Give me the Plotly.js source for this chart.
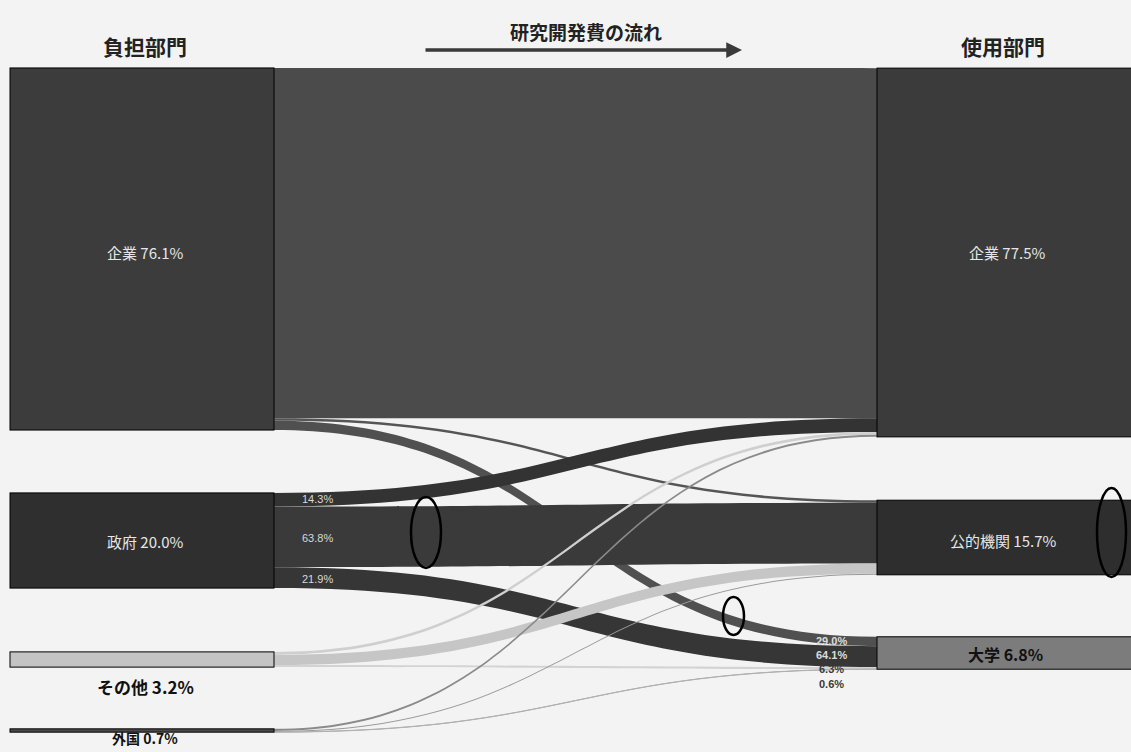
<!DOCTYPE html>
<html>
<head>
<meta charset="utf-8">
<script src="https://cdn.plot.ly/plotly-3.0.1.min.js"></script>
<style>html,body{margin:0;padding:0;background:#f3f3f3;}</style>
</head>
<body>
<div id="chart" style="width:1131px;height:752px;"></div>
<script>
// ---- data ----
const nodeNames = ["企業", "政府", "その他", "外国", "企業", "公的機関", "大学"];
const nodeShares = ["76.1%", "20.0%", "3.2%", "0.7%", "77.5%", "15.7%", "6.8%"];
const linkSources = [0, 0, 0, 1, 1, 1, 2, 2, 2, 3, 3, 3];
const linkTargets = [4, 5, 6, 4, 5, 6, 4, 5, 6, 4, 5, 6];
const linkValues  = [73.6, 0.53, 1.97, 2.86, 12.76, 4.38, 0.6, 2.17, 0.43, 0.44, 0.22, 0.04];
const govShareLabels = ["14.3%", "63.8%", "21.9%"];
const univShareLabels = ["29.0%", "64.1%", "6.3%", "0.6%"];

// ---- layout geometry ----
const W = 1131, H = 752;
const ML = 10, MR = 0, MT = 68, MB = 0;
const PW = W - ML - MR, PH = H - MT - MB;
const thick = 264;
const px2x = p => (p - ML) / PW;
const px2y = p => 1 - (p - MT) / PH;
const pyToNode = p => (p - MT) / PH;

const nodeX = [142, 142, 142, 142, 1009, 1009, 1009].map(p => (p - ML) / PW);
const nodeY = [249, 540.5, 659.5, 730.5, 252.5, 537.5, 653].map(pyToNode);

const nodeColors = ["#3c3c3c", "#2f2f2f", "#c4c4c4", "#4a4a4a", "#3b3b3b", "#2e2e2e", "#7c7c7c"];
const nodeLineColors = ["#3c3c3c", "#2f2f2f", "#9a9a9a", "#4a4a4a", "#3b3b3b", "#2e2e2e", "#7c7c7c"];
const nodeLineWidths = [0, 0, 1, 0, 0, 0, 0];
const linkColors = ["#4b4b4b", "#555555", "#505050",
                    "#333333", "#3a3a3a", "#363636",
                    "#cfcfcf", "#c6c6c6", "#d3d3d3",
                    "#8a8a8a", "#9a9a9a", "#b0b0b0"];

const fontJP = "Noto Sans CJK JP, sans-serif";
const fontNum = "Liberation Sans, Arial, sans-serif";

const trace = {
  type: "sankey",
  arrangement: "fixed",
  domain: {x: [0, 1], y: [0, 1]},
  node: {
    label: nodeNames,
    x: nodeX,
    y: nodeY,
    pad: 69.4,
    thickness: thick,
    color: nodeColors,
    line: {color: nodeLineColors, width: nodeLineWidths},
    hoverinfo: "none"
  },
  link: {
    source: linkSources,
    target: linkTargets,
    value: linkValues,
    color: linkColors,
    hoverinfo: "none"
  },
  textfont: {size: 1, color: "rgba(0,0,0,0)"}
};

const ann = [];
function addText(text, xpx, ypx, size, color, opts) {
  ann.push(Object.assign({
    text: text, xref: "paper", yref: "paper",
    x: px2x(xpx), y: px2y(ypx), xanchor: "center", yanchor: "middle",
    showarrow: false, font: {family: fontJP, size: size, color: color}
  }, opts || {}));
}
// headers
addText("<b>負担部門</b>", 145, 46, 21, "#222");
addText("<b>研究開発費の流れ</b>", 586, 31, 19, "#222");
addText("<b>使用部門</b>", 1003, 46, 21, "#222");
// arrow under flow title
ann.push({text: "", xref: "paper", yref: "paper", x: px2x(742), y: px2y(50),
  ax: -318, ay: 0, showarrow: true, arrowhead: 2, arrowsize: 0.9, arrowwidth: 3.5, arrowcolor: "#3a3a3a"});

// node labels
addText(nodeNames[0] + " " + nodeShares[0], 145, 252, 15, "#e6e6e6");
addText(nodeNames[1] + " " + nodeShares[1], 145, 541, 15, "#e6e6e6");
addText("<b>" + nodeNames[2] + " " + nodeShares[2] + "</b>", 145, 686, 17, "#111");
addText("<b>" + nodeNames[3] + " " + nodeShares[3] + "</b>", 145, 749, 14, "#111",
  {yanchor: "bottom", borderpad: 0});
addText(nodeNames[4] + " " + nodeShares[4], 1007, 252, 15, "#e6e6e6");
addText(nodeNames[5] + " " + nodeShares[5], 1003, 540, 15, "#e6e6e6");
addText("<b>" + nodeNames[6] + " " + nodeShares[6] + "</b>", 1005, 654, 16, "#111");

// link share labels (government outflows)
const govY = [499, 538, 579];
govShareLabels.forEach((t, i) => addText(t, 300, govY[i], 11, "#d8d8d8",
  {xanchor: "left", font: {family: fontNum, size: 11, color: "#d8d8d8"}}));
// link share labels (university inflows)
const univY = [641, 655, 669, 684];
const univCol = ["#dcdcdc", "#dcdcdc", "#3a3a3a", "#3a3a3a"];
univShareLabels.forEach((t, i) => addText("<b>" + t + "</b>", 831, univY[i], 11, univCol[i],
  {font: {family: fontNum, size: 11, color: univCol[i]}}));

// highlight ellipses
const ellipses = [[411, 497, 441, 568], [723, 597, 744, 635], [1097, 488, 1126, 577]];
const shapes = ellipses.map(e => ({
  type: "circle", xref: "paper", yref: "paper",
  x0: px2x(e[0]), x1: px2x(e[2]), y0: px2y(e[1]), y1: px2y(e[3]),
  line: {color: "#000", width: 2.5}, fillcolor: "rgba(0,0,0,0)"
}));

const layout = {
  width: W, height: H,
  margin: {l: ML, r: MR, t: MT, b: MB, pad: 0},
  paper_bgcolor: "#f3f3f3",
  plot_bgcolor: "#f3f3f3",
  font: {family: fontJP},
  annotations: ann,
  shapes: shapes,
  showlegend: false
};

Plotly.newPlot("chart", [trace], layout, {displayModeBar: false, staticPlot: true});
</script>
</body>
</html>
